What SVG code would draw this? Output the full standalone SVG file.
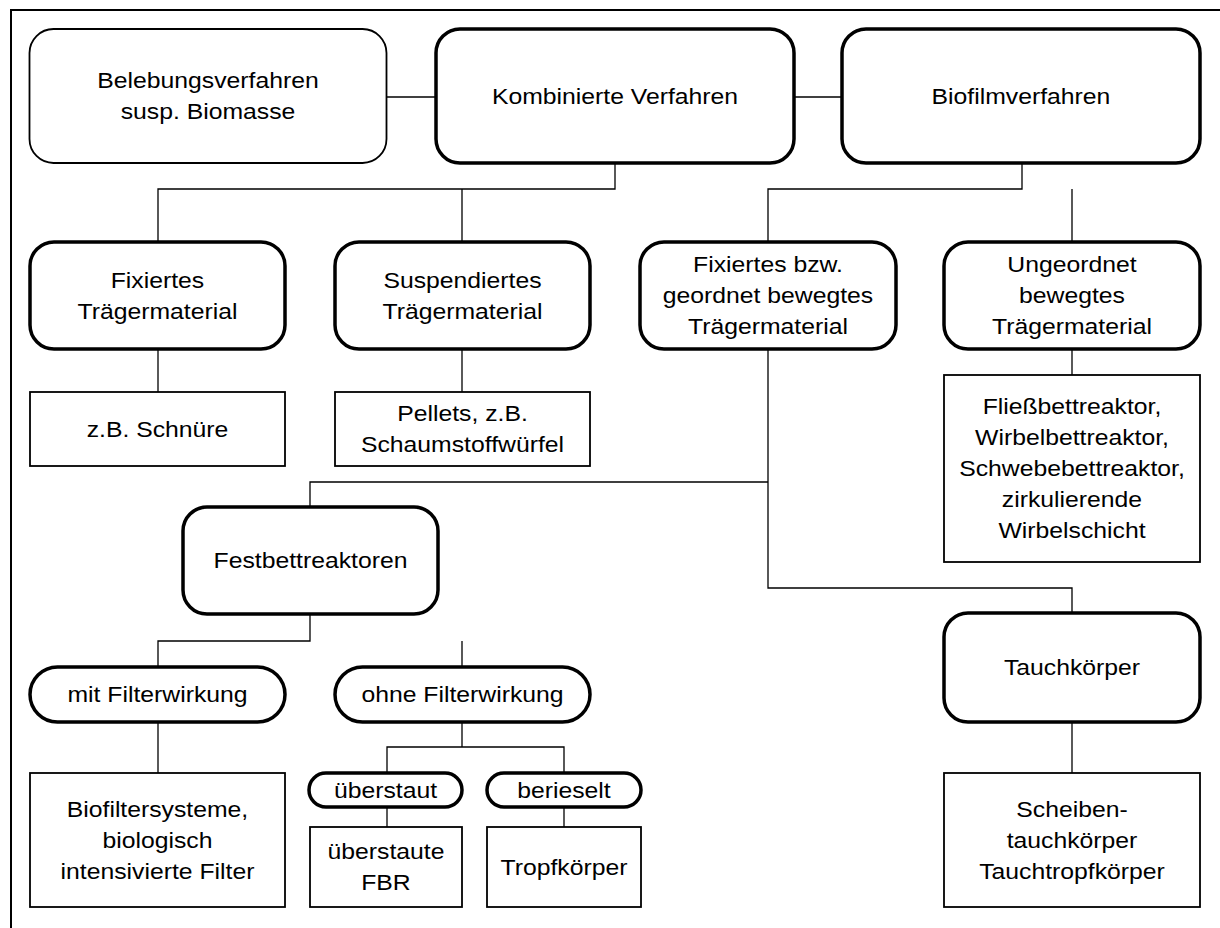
<svg xmlns="http://www.w3.org/2000/svg" width="1220" height="928" viewBox="0 0 1220 928">
  <style>
    .bg { fill: #ffffff; }
    .frame { fill: none; stroke: #000; stroke-width: 2; }
    .main { fill: #fff; stroke: #000; stroke-width: 3.5; }
    .soft { fill: #fff; stroke: #000; stroke-width: 1.8; }
    .plain { fill: #fff; stroke: #000; stroke-width: 1.8; }
    .link { fill: none; stroke: #000; stroke-width: 1.3; }
    text {
      font-family: "Liberation Sans", Arial, Helvetica, sans-serif;
      font-size: 22.5px;
      fill: #000;
      text-anchor: middle;
      transform-box: fill-box;
      transform-origin: center;
      transform: scaleX(1.1);
    }
  </style>

  <rect class="bg" x="0" y="0" width="1220" height="928"/>
  <rect class="frame" x="11" y="10" width="1240" height="940"/>

  <!-- connectors -->
  <g id="connectors">
    <path class="link" d="M387 97 H436"/>
    <path class="link" d="M794 97 H842"/>
    <path class="link" d="M615 163 V189 H158 V242 M462 189 V242"/>
    <path class="link" d="M1022 163 V189 H768 V242 M1072 189 V242"/>
    <path class="link" d="M158 349 V392"/>
    <path class="link" d="M462 349 V392"/>
    <path class="link" d="M1072 349 V375"/>
    <path class="link" d="M768 349 V588 H1072 V613"/>
    <path class="link" d="M768 482 H310 V507"/>
    <path class="link" d="M310 614 V641 H158 V667 M462 641 V667"/>
    <path class="link" d="M158 722 V773"/>
    <path class="link" d="M462 722 V747 H387 V773 M462 747 H564 V773"/>
    <path class="link" d="M387 807 V827"/>
    <path class="link" d="M564 807 V827"/>
    <path class="link" d="M1072 722 V773"/>
  </g>

  <!-- top row -->
  <g id="belebung">
    <rect class="soft" x="29.5" y="29" width="357" height="134" rx="24" ry="24"/>
    <text x="208" y="88.5">Belebungsverfahren</text>
    <text x="208" y="119.5">susp. Biomasse</text>
  </g>
  <g id="kombiniert">
    <rect class="main" x="436" y="29" width="358" height="134" rx="24" ry="24"/>
    <text x="615" y="104">Kombinierte Verfahren</text>
  </g>
  <g id="biofilm">
    <rect class="main" x="842" y="29" width="358" height="134" rx="24" ry="24"/>
    <text x="1021" y="104">Biofilmverfahren</text>
  </g>

  <!-- carrier material row -->
  <g id="fixiert">
    <rect class="main" x="30" y="242" width="255" height="107" rx="24" ry="24"/>
    <text x="157.5" y="288">Fixiertes</text>
    <text x="157.5" y="319">Trägermaterial</text>
  </g>
  <g id="suspendiert">
    <rect class="main" x="335" y="242" width="255" height="107" rx="24" ry="24"/>
    <text x="462.5" y="288">Suspendiertes</text>
    <text x="462.5" y="319">Trägermaterial</text>
  </g>
  <g id="fixiert-geordnet">
    <rect class="main" x="640" y="242" width="256" height="107" rx="24" ry="24"/>
    <text x="768" y="272.5">Fixiertes bzw.</text>
    <text x="768" y="303.5">geordnet bewegtes</text>
    <text x="768" y="334.5">Trägermaterial</text>
  </g>
  <g id="ungeordnet">
    <rect class="main" x="944" y="242" width="256" height="107" rx="24" ry="24"/>
    <text x="1072" y="272.5">Ungeordnet</text>
    <text x="1072" y="303.5">bewegtes</text>
    <text x="1072" y="334.5">Trägermaterial</text>
  </g>

  <!-- examples -->
  <g id="schnuere">
    <rect class="plain" x="30" y="392" width="255" height="74"/>
    <text x="157.5" y="437">z.B. Schnüre</text>
  </g>
  <g id="pellets">
    <rect class="plain" x="335" y="392" width="255" height="74"/>
    <text x="462.5" y="421.5">Pellets, z.B.</text>
    <text x="462.5" y="452.5">Schaumstoffwürfel</text>
  </g>
  <g id="fliessbett">
    <rect class="plain" x="944" y="375" width="256" height="187"/>
    <text x="1072" y="414.5">Fließbettreaktor,</text>
    <text x="1072" y="445.5">Wirbelbettreaktor,</text>
    <text x="1072" y="476.5">Schwebebettreaktor,</text>
    <text x="1072" y="507.5">zirkulierende</text>
    <text x="1072" y="538.5">Wirbelschicht</text>
  </g>

  <!-- fixed bed branch -->
  <g id="festbett">
    <rect class="main" x="183" y="507" width="255" height="107" rx="24" ry="24"/>
    <text x="310.5" y="568.5">Festbettreaktoren</text>
  </g>
  <g id="mit-filter">
    <rect class="main" x="30" y="667" width="255" height="55" rx="27.5" ry="27.5"/>
    <text x="157.5" y="702.5">mit Filterwirkung</text>
  </g>
  <g id="ohne-filter">
    <rect class="main" x="335" y="667" width="255" height="55" rx="27.5" ry="27.5"/>
    <text x="462.5" y="702.5">ohne Filterwirkung</text>
  </g>
  <g id="biofilter">
    <rect class="plain" x="30" y="773" width="255" height="134"/>
    <text x="157.5" y="817">Biofiltersysteme,</text>
    <text x="157.5" y="848">biologisch</text>
    <text x="157.5" y="879">intensivierte Filter</text>
  </g>
  <g id="ueberstaut">
    <rect class="main" x="309" y="773" width="153" height="34" rx="17" ry="17"/>
    <text x="385.5" y="798">überstaut</text>
  </g>
  <g id="berieselt">
    <rect class="main" x="487" y="773" width="154" height="34" rx="17" ry="17"/>
    <text x="564" y="798">berieselt</text>
  </g>
  <g id="ueberstaute-fbr">
    <rect class="plain" x="310" y="827" width="152" height="80"/>
    <text x="386" y="859.5">überstaute</text>
    <text x="386" y="890.5">FBR</text>
  </g>
  <g id="tropfkoerper">
    <rect class="plain" x="487" y="827" width="154" height="80"/>
    <text x="564" y="875">Tropfkörper</text>
  </g>

  <!-- rotating contactor branch -->
  <g id="tauchkoerper">
    <rect class="main" x="944" y="613" width="256" height="109" rx="24" ry="24"/>
    <text x="1072" y="675.5">Tauchkörper</text>
  </g>
  <g id="scheibentauchkoerper">
    <rect class="plain" x="944" y="773" width="256" height="134"/>
    <text x="1072" y="817">Scheiben-</text>
    <text x="1072" y="848">tauchkörper</text>
    <text x="1072" y="879">Tauchtropfkörper</text>
  </g>
</svg>
